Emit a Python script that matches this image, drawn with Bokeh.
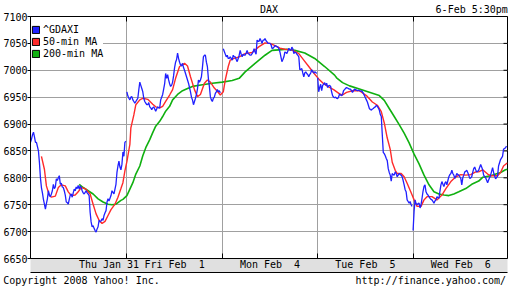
from bokeh.plotting import figure
from bokeh.models import (FixedTicker, Range1d, Legend, LegendItem, LinearAxis)
from bokeh.embed import file_html
from bokeh.resources import INLINE

FONT = "DejaVu Sans Mono"
BLUE = "#2020ff"
RED = "#ff2a2a"
GREEN = "#10b010"

# ---- header / footer texts and where they sit (in bar units) ----
header_texts = ["DAX", "6-Feb 5:30pm"]
header_pos = [240, 444]
footer_texts = ["Copyright 2008 Yahoo! Inc.", "http://finance.yahoo.com/"]
footer_pos = [51.3, 402.8]

# ---- axes data ----
y_ticks = [6650, 6700, 6750, 6800, 6850, 6900, 6950, 7000, 7050, 7100]
day_starts = [97, 193, 289, 385]          # first 5-min bar of each session
day_label_pos = [79, 145, 241, 337, 433]
day_labels = ["Thu Jan 31", "Fri Feb\u00a0\u00a01", "Mon Feb\u00a0\u00a04",
              "Tue Feb\u00a0\u00a05", "Wed Feb\u00a0\u00a06"]

# ---- ^GDAXI (5-minute bars), one list per session ----
day1_start = 0
day1_vals = [6866, 6872, 6880, 6885, 6876, 6866, 6866, 6858, 6850, 6828,
             6800, 6782, 6772, 6760, 6751, 6742, 6752, 6761, 6776, 6768,
             6765, 6770, 6776, 6788, 6780, 6783, 6798, 6795, 6800, 6804,
             6788, 6790, 6783, 6782, 6776, 6768, 6755, 6754, 6751, 6760,
             6768, 6770, 6764, 6772, 6779, 6776, 6783, 6780, 6786, 6779,
             6785, 6782, 6776, 6772, 6770, 6773, 6776, 6772, 6770, 6767,
             6736, 6718, 6709, 6711, 6706, 6702, 6699, 6705, 6709, 6721,
             6718, 6720, 6724, 6721, 6730, 6735, 6739, 6755, 6761, 6757,
             6762, 6767, 6776, 6773, 6770, 6779, 6788, 6810, 6822, 6831,
             6820, 6815, 6825, 6848, 6840, 6866, 6868]
day2_start = 97
day2_vals = [6960, 6952, 6948, 6945, 6950, 6951, 6945, 6942, 6939, 6942,
             6945, 6948, 6964, 6978, 6972, 6966, 6960, 6948, 6942, 6939,
             6936, 6936, 6940, 6932, 6930, 6927, 6930, 6932, 6928, 6924,
             6928, 6932, 6930, 6930, 6945, 6950, 6955, 6965, 6975, 6994,
             6985, 6992, 6982, 6975, 6970, 6972, 6978, 6990, 7005, 7015,
             7020, 7032, 7022, 7015, 7010, 7008, 7013, 7005, 7000, 6994,
             6988, 6982, 6976, 6968, 6960, 6950, 6945, 6936, 6942, 6948,
             6955, 6965, 6982, 6978, 6982, 6988, 7005, 7025, 7028, 7028,
             7015, 7007, 6985, 6970, 6951, 6945, 6942, 6948, 6950, 6957,
             6960, 6964, 6960, 6962, 6958]
day3_start = 194
day3_vals = [7040, 7035, 7030, 7025, 7028, 7022, 7022, 7025, 7022, 7019,
             7028, 7025, 7025, 7020, 7016, 7022, 7028, 7037, 7030, 7025,
             7030, 7028, 7028, 7032, 7037, 7031, 7030, 7028, 7028, 7031,
             7034, 7040, 7034, 7030, 7056, 7054, 7054, 7059, 7055, 7050,
             7056, 7056, 7059, 7055, 7053, 7050, 7050, 7050, 7048, 7041,
             7041, 7043, 7046, 7045, 7044, 7043, 7040, 7034, 7025, 7016,
             7020, 7025, 7034, 7033, 7031, 7036, 7041, 7038, 7037, 7043,
             7040, 7031, 7034, 7033, 7030, 7028, 7025, 7001, 7002, 7003,
             6995, 6988, 6995, 6997, 6994, 6992, 6988, 6992, 6995, 7001,
             6998, 6995, 6997, 6996, 6994]
day4_start = 289
day4_vals = [6986, 6960, 6968, 6974, 6962, 6972, 6974, 6977, 6972, 6976,
             6968, 6971, 6972, 6970, 6960, 6953, 6950, 6949, 6950, 6948,
             6947, 6950, 6956, 6954, 6953, 6955, 6962, 6964, 6966, 6968,
             6967, 6966, 6965, 6965, 6962, 6959, 6962, 6965, 6964, 6963,
             6962, 6963, 6962, 6961, 6962, 6960, 6957, 6953, 6949, 6945,
             6941, 6935, 6929, 6927, 6926, 6928, 6929, 6931, 6932, 6935,
             6933, 6930, 6926, 6918, 6914, 6880, 6847, 6845, 6841, 6836,
             6832, 6817, 6810, 6805, 6794, 6808, 6806, 6805, 6811, 6808,
             6802, 6805, 6808, 6806, 6805, 6802, 6795, 6787, 6778, 6774,
             6759, 6756, 6753, 6756, 6750, 6747]
day5_bars = [385, 386, 387, 388, 389, 390, 391, 392, 393, 394,
             395, 396, 397, 398, 399, 400, 401, 402, 403, 404,
             405, 406, 407, 408, 409, 410, 411, 412, 413, 414,
             415, 416, 417, 418, 419, 420, 421, 422, 423, 424,
             425, 426, 427, 428, 429, 430, 431, 432, 433, 434,
             435, 436, 437, 438, 439, 440, 441, 442, 443, 444,
             445, 446, 447, 448, 449, 450, 451, 453, 455, 456,
             458, 460, 461, 463, 465, 466, 468, 470, 471, 473,
             475, 476, 478, 479]
day5_vals = [6702, 6738, 6759, 6752, 6750, 6752, 6753, 6744, 6750, 6762,
             6775, 6784, 6787, 6774, 6770, 6768, 6765, 6762, 6760, 6759,
             6756, 6753, 6757, 6759, 6765, 6763, 6762, 6775, 6787, 6793,
             6788, 6784, 6790, 6793, 6787, 6795, 6802, 6806, 6808, 6814,
             6808, 6805, 6799, 6803, 6808, 6806, 6805, 6802, 6799, 6787,
             6800, 6805, 6811, 6812, 6814, 6810, 6805, 6799, 6800, 6802,
             6810, 6817, 6820, 6815, 6811, 6812, 6814, 6825, 6815, 6805,
             6800, 6791, 6796, 6805, 6819, 6810, 6798, 6803, 6822, 6834,
             6840, 6853, 6856, 6859]

# ---- 50-min moving average ----
ma50_bars = [11, 14, 16, 19, 21, 25, 28, 31, 35, 38, 41, 45, 48, 51, 55, 57, 60,
             63, 66, 69, 72, 75, 78, 81, 85, 88, 91, 93, 95, 97, 100, 101, 104,
             106, 110, 113, 118, 123, 126, 130, 133, 136, 140, 143, 146, 150,
             155, 158, 161, 165, 168, 171, 175, 178, 181, 185, 188, 191, 194,
             196, 199, 201, 205, 210, 216, 223, 230, 236, 241, 246, 251, 256,
             263, 270, 275, 280, 285, 290, 295, 300, 305, 311, 314, 318, 324,
             331, 338, 344, 349, 353, 356, 359, 362, 364, 367, 369, 373, 376,
             379, 382, 384, 386, 389, 393, 396, 399, 404, 409, 414, 418, 423,
             428, 433, 438, 443, 448, 451, 455, 460, 463, 470, 473, 476, 480]
ma50_vals = [6840, 6816, 6785, 6767, 6764, 6766, 6782, 6787, 6785, 6774, 6767,
             6768, 6774, 6782, 6780, 6776, 6770, 6751, 6733, 6721, 6715, 6719,
             6730, 6741, 6751, 6764, 6780, 6791, 6813, 6830, 6862, 6893, 6917,
             6936, 6945, 6948, 6946, 6937, 6932, 6930, 6933, 6942, 6954, 6964,
             6985, 7007, 7013, 7008, 6988, 6964, 6951, 6955, 6976, 6982, 6978,
             6967, 6961, 6954, 6960, 6982, 7007, 7019, 7022, 7025, 7031, 7033,
             7044, 7051, 7050, 7046, 7041, 7039, 7038, 7031, 7019, 7007, 6995,
             6984, 6975, 6969, 6964, 6956, 6954, 6959, 6962, 6962, 6953, 6941,
             6935, 6923, 6902, 6874, 6853, 6829, 6814, 6808, 6808, 6802, 6790,
             6777, 6768, 6759, 6747, 6747, 6759, 6765, 6765, 6759, 6768, 6780,
             6793, 6802, 6806, 6805, 6806, 6811, 6811, 6815, 6807, 6804, 6804,
             6810, 6822, 6828]

# ---- 200-min moving average ----
ma200_bars = [49, 53, 58, 63, 68, 73, 78, 82, 86, 91, 93, 97, 100, 103, 106,
              110, 113, 116, 120, 123, 126, 130, 133, 136, 140, 143, 148, 153,
              158, 163, 173, 183, 193, 203, 210, 216, 226, 236, 243, 250, 258,
              266, 276, 286, 296, 306, 308, 314, 321, 331, 341, 351, 356, 361,
              366, 371, 376, 381, 386, 391, 396, 401, 406, 411, 416, 421, 426,
              431, 438, 444, 451, 455, 463, 473, 478, 480]
ma200_vals = [6788, 6782, 6776, 6770, 6761, 6755, 6751, 6750, 6751, 6758, 6760,
              6767, 6779, 6791, 6807, 6822, 6841, 6856, 6871, 6884, 6896, 6905,
              6914, 6924, 6933, 6945, 6955, 6962, 6966, 6970, 6973, 6976, 6978,
              6981, 6985, 6997, 7013, 7028, 7037, 7038, 7039, 7037, 7032, 7022,
              7007, 6991, 6986, 6977, 6971, 6965, 6959, 6953, 6944, 6929, 6914,
              6899, 6883, 6865, 6844, 6826, 6805, 6787, 6774, 6770, 6768, 6767,
              6770, 6774, 6780, 6788, 6794, 6801, 6804, 6810, 6815, 6816]

gdaxi_xs = [list(range(day1_start, day1_start + len(day1_vals))),
            list(range(day2_start, day2_start + len(day2_vals))),
            list(range(day3_start, day3_start + len(day3_vals))),
            list(range(day4_start, day4_start + len(day4_vals))),
            day5_bars]
gdaxi_ys = [day1_vals, day2_vals, day3_vals, day4_vals, day5_vals]

X0, X1 = 0, 480
Y0, Y1 = y_ticks[0], y_ticks[-1]

p = figure(width=512, height=288, output_backend="svg", toolbar_location=None,
           x_range=Range1d(X0, X1), y_range=Range1d(Y0, Y1),
           min_border_left=27, min_border_right=5, min_border_top=15,
           min_border_bottom=28, background_fill_color="white",
           border_fill_color="white")
p.outline_line_color = "black"
p.outline_line_width = 1

p.xgrid.ticker = FixedTicker(ticks=day_starts)
p.ygrid.ticker = FixedTicker(ticks=y_ticks)
for g in (p.xgrid, p.ygrid):
    g.grid_line_color = "#a0a0a0"
    g.grid_line_width = 1


def text_axis(ticks, labels, minor=None, standoff=0, **kw):
    return LinearAxis(ticker=FixedTicker(ticks=ticks, minor_ticks=minor or []),
                      major_label_overrides={t: s for t, s in zip(ticks, labels)},
                      major_tick_in=0, major_tick_out=0,
                      minor_tick_in=5 if minor else 0, minor_tick_out=0,
                      minor_tick_line_color="black",
                      major_label_standoff=standoff,
                      major_label_text_font=FONT, major_label_text_font_size="10px",
                      major_label_text_color="black", **kw)


# bottom axis: day labels on a grey band
xa = p.xaxis[0]
xa.ticker = FixedTicker(ticks=day_label_pos, minor_ticks=day_starts)
xa.major_label_overrides = {pos: lab for pos, lab in zip(day_label_pos, day_labels)}
xa.major_tick_in = 0
xa.major_tick_out = 0
xa.minor_tick_in = 5
xa.minor_tick_out = 0
xa.minor_tick_line_color = "black"
xa.major_label_standoff = 0
xa.major_label_text_font = FONT
xa.major_label_text_font_size = "10px"
xa.major_label_text_color = "black"
xa.axis_line_color = "black"
xa.background_fill_color = "#e0e0e0"

# footer line (copyright / url); its axis line closes the grey band
p.add_layout(text_axis(footer_pos, footer_texts, standoff=2, axis_line_color="black"),
             "below")
# header line (title / time) + session ticks along the top edge
p.add_layout(text_axis(header_pos, header_texts, minor=day_starts, standoff=2,
                       axis_line_color=None), "above")

# left axis
ya = p.yaxis[0]
ya.ticker = FixedTicker(ticks=y_ticks)
ya.major_tick_in = 0
ya.major_tick_out = 3
ya.minor_tick_in = 0
ya.minor_tick_out = 0
ya.major_label_standoff = 0
ya.major_label_text_font = FONT
ya.major_label_text_font_size = "10px"
ya.major_label_text_color = "black"
ya.axis_line_color = "black"

# inner tick marks on the right edge
p.scatter(x=[X1] * len(y_ticks), y=y_ticks, marker="dash", size=8,
          line_color="black", line_width=1)

# series
p.line(ma200_bars, ma200_vals, line_color=GREEN, line_width=1.6)
p.line(ma50_bars, ma50_vals, line_color=RED, line_width=1.4)
p.multi_line(xs=gdaxi_xs, ys=gdaxi_ys, line_color=BLUE, line_width=1.3)

# square legend swatches: hidden box renderers on each series' last point
sw = []
for c, xs_, ys_ in ((BLUE, day5_bars, day5_vals), (RED, ma50_bars, ma50_vals),
                    (GREEN, ma200_bars, ma200_vals)):
    r = p.rect(x=[xs_[-1]], y=[ys_[-1]], width=1, height=1, fill_color=c,
               line_color="black", line_width=1)
    r.visible = False
    sw.append(r)
legend = Legend(items=[LegendItem(label="^GDAXI", renderers=[sw[0]]),
                       LegendItem(label="50-min MA", renderers=[sw[1]]),
                       LegendItem(label="200-min MA", renderers=[sw[2]])],
                location=(1, 199), margin=0, padding=0, spacing=-2,
                glyph_width=9, glyph_height=9, label_height=12, label_standoff=3,
                label_text_font=FONT, label_text_font_size="10px",
                label_text_color="black", inactive_fill_alpha=0,
                background_fill_color="white", background_fill_alpha=1,
                border_line_color=None)
p.add_layout(legend)

open("out.html", "w").write(file_html(p, INLINE))
